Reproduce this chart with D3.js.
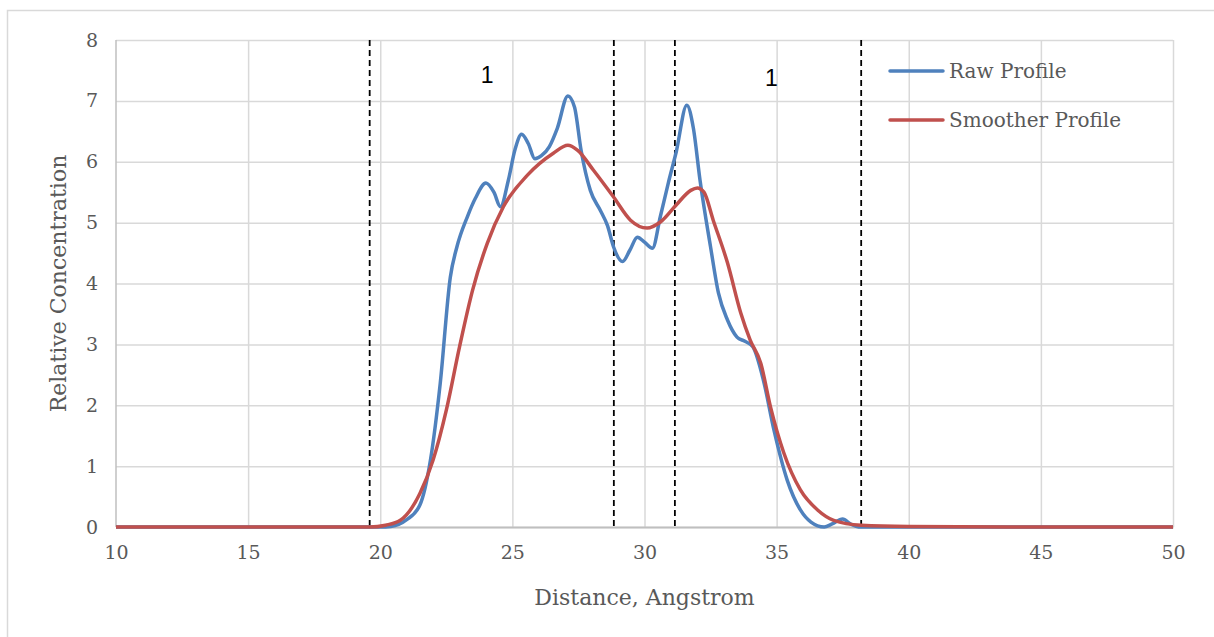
<!DOCTYPE html>
<html>
<head>
<meta charset="utf-8">
<script src="https://cdn.jsdelivr.net/npm/d3@7"></script>
<style>
  body { margin: 0; background: #fff; }
  svg { display: block; }
</style>
</head>
<body>
<div id="chart"></div>
<script>
// data
var rawX = [10, 15, 20, 20.4, 21.0, 21.5, 21.9, 22.27, 22.65, 22.9, 23.3, 23.6, 24.0, 24.3, 24.55, 24.85, 25.1, 25.35, 25.6, 25.85, 26.1, 26.4, 26.7, 27.1, 27.35, 27.6, 27.95, 28.33, 28.6, 28.83, 29.17, 29.45, 29.73, 30.0, 30.3, 30.6, 30.9, 31.2, 31.6, 31.85, 32.1, 32.5, 32.8, 33.14, 33.5, 33.8, 34.1, 34.5, 34.9, 35.4, 35.9, 36.3, 36.8, 37.1, 37.5, 37.8, 38.1, 40, 45, 50];
var rawY = [0, 0, 0, 0.01, 0.12, 0.36, 1.1, 2.36, 4.1, 4.6, 5.1, 5.4, 5.65, 5.5, 5.26, 5.7, 6.2, 6.45, 6.3, 6.05, 6.1, 6.25, 6.55, 7.08, 6.9, 6.19, 5.53, 5.2, 4.95, 4.6, 4.36, 4.55, 4.76, 4.68, 4.58, 5.1, 5.65, 6.16, 6.93, 6.55, 5.7, 4.6, 3.84, 3.4, 3.12, 3.05, 2.96, 2.41, 1.59, 0.77, 0.28, 0.08, 0.0, 0.05, 0.13, 0.05, 0.0, 0, 0, 0];

var smoothX = [10, 15, 19.6, 20.2, 20.76, 21.5, 22.0, 22.5, 23.0, 23.5, 24.05, 24.66, 25.57, 26.55, 27.1, 27.46, 28.07, 28.83, 29.47, 30.1, 30.6, 31.2, 31.75, 32.0, 32.25, 32.6, 33.14, 33.64, 34.0, 34.4, 34.77, 35.27, 35.9, 36.55, 37.16, 38.2, 40, 45, 50];
var smoothY = [0, 0, 0, 0.03, 0.11, 0.55, 1.1, 1.92, 2.96, 3.9, 4.66, 5.26, 5.78, 6.14, 6.27, 6.19, 5.86, 5.42, 5.04, 4.91, 5.01, 5.29, 5.53, 5.57, 5.5, 5.04, 4.34, 3.52, 3.07, 2.69, 1.97, 1.22, 0.61, 0.28, 0.11, 0.03, 0.01, 0, 0];

var dividers = [19.6, 28.84, 31.15, 38.2];
var regionLabels = [{ x: 24.05, y: 7.42, text: "1" }, { x: 34.8, y: 7.38, text: "1" }];

var xTicks = [10, 15, 20, 25, 30, 35, 40, 45, 50];
var yTicks = [0, 1, 2, 3, 4, 5, 6, 7, 8];

var seriesNames = ["Raw Profile", "Smoother Profile"];
var seriesColors = ["#4f81bd", "#c0504d"];

//////// CANVAS ////////
var outerWidth = 1214, outerHeight = 637;
var margin = { top: 40, right: 41, bottom: 110, left: 116 };
var width = outerWidth - margin.left - margin.right,
    height = outerHeight - margin.top - margin.bottom;

var svg = d3.select("#chart").append("svg")
    .attr("width", outerWidth)
    .attr("height", outerHeight);

// chart frame (only left and top edges show)
svg.append("rect")
    .attr("x", 7.5).attr("y", 10.5)
    .attr("width", 1300).attr("height", 700)
    .attr("fill", "none")
    .attr("stroke", "#d9d9d9")
    .attr("stroke-width", 1.5);

var g = svg.append("g")
    .attr("transform", "translate(" + margin.left + "," + margin.top + ")");

//////// SCALES ////////
var xScale = d3.scaleLinear().domain([10, 50]).range([0, width]);
var yScale = d3.scaleLinear().domain([0, 8]).range([height, 0]);

var serif = "'DejaVu Serif', serif";

// gridlines
g.append("g")
    .attr("class", "grid y")
    .call(d3.axisLeft(yScale).tickValues(yTicks).tickSize(-width).tickFormat(""))
    .call(function(s) {
        s.select(".domain").remove();
        s.selectAll("line").attr("stroke", "#d9d9d9").attr("stroke-width", 1.5);
    });

g.append("g")
    .attr("class", "grid x")
    .attr("transform", "translate(0," + height + ")")
    .call(d3.axisBottom(xScale).tickValues(xTicks.slice(1)).tickSize(-height).tickFormat(""))
    .call(function(s) {
        s.select(".domain").remove();
        s.selectAll("line").attr("stroke", "#d9d9d9").attr("stroke-width", 1.5);
    });

// left axis line
g.append("line")
    .attr("x1", 0).attr("x2", 0)
    .attr("y1", 0).attr("y2", height)
    .attr("stroke", "#bfbfbf").attr("stroke-width", 1.5);

// AXES
g.append("g")
    .attr("class", "y axis")
    .call(d3.axisLeft(yScale).tickValues(yTicks).tickSize(0).tickPadding(18))
    .call(function(s) {
        s.select(".domain").remove();
        s.selectAll("text")
            .attr("font-family", serif).attr("font-size", 19).attr("fill", "#595959");
    });

g.append("g")
    .attr("class", "x axis")
    .attr("transform", "translate(0," + height + ")")
    .call(d3.axisBottom(xScale).tickValues(xTicks).tickSize(0).tickPadding(19))
    .call(function(s) {
        s.select(".domain").attr("stroke", "#bfbfbf").attr("stroke-width", 2);
        s.selectAll("text")
            .attr("font-family", serif).attr("font-size", 19).attr("fill", "#595959");
    });

// axis titles
g.append("text")
    .attr("transform", "translate(-58," + (height / 2 + 0) + ") rotate(-90)")
    .attr("text-anchor", "middle")
    .attr("dominant-baseline", "central")
    .attr("font-family", serif).attr("font-size", 22).attr("fill", "#595959")
    .text("Relative Concentration");

g.append("text")
    .attr("x", xScale(30))
    .attr("y", height + 70)
    .attr("text-anchor", "middle")
    .attr("dominant-baseline", "central")
    .attr("font-family", serif).attr("font-size", 22).attr("fill", "#595959")
    .text("Distance, Angstrom");

// dashed region dividers
g.selectAll(".divider")
    .data(dividers)
    .enter().append("line")
    .attr("class", "divider")
    .attr("x1", function(d) { return xScale(d); })
    .attr("x2", function(d) { return xScale(d); })
    .attr("y1", 0).attr("y2", height)
    .attr("stroke", "#000").attr("stroke-width", 1.8)
    .attr("stroke-dasharray", "6,4");

// LINES
var line = d3.line()
    .x(function(d) { return xScale(d[0]); })
    .y(function(d) { return yScale(d[1]); })
    .curve(d3.curveMonotoneX);

var rawData = d3.zip(rawX, rawY);
var smoothData = d3.zip(smoothX, smoothY);

g.append("path")
    .datum(rawData)
    .attr("fill", "none")
    .attr("stroke", seriesColors[0])
    .attr("stroke-width", 3.5)
    .attr("stroke-linejoin", "round")
    .attr("d", line);

g.append("path")
    .datum(smoothData)
    .attr("fill", "none")
    .attr("stroke", seriesColors[1])
    .attr("stroke-width", 3.5)
    .attr("stroke-linejoin", "round")
    .attr("d", line);

// region labels
g.selectAll(".region")
    .data(regionLabels)
    .enter().append("text")
    .attr("class", "region")
    .attr("x", function(d) { return xScale(d.x); })
    .attr("y", function(d) { return yScale(d.y); })
    .attr("text-anchor", "middle")
    .attr("dominant-baseline", "central")
    .attr("font-family", "'Liberation Sans', sans-serif")
    .attr("font-size", 23)
    .attr("fill", "#000")
    .text(function(d) { return d.text; });

// LEGEND
var legend = svg.append("g")
    .attr("transform", "translate(890,71)");

var items = legend.selectAll("g")
    .data(seriesNames)
    .enter().append("g")
    .attr("transform", function(d, i) { return "translate(0," + (i * 49) + ")"; });

items.append("line")
    .attr("x1", 0).attr("x2", 53)
    .attr("stroke", function(d, i) { return seriesColors[i]; })
    .attr("stroke-width", 3.5)
    .attr("stroke-linecap", "round");

items.append("text")
    .attr("x", 59)
    .attr("dominant-baseline", "central")
    .attr("font-family", serif).attr("font-size", 20).attr("fill", "#595959")
    .text(function(d) { return d; });
</script>
</body>
</html>
